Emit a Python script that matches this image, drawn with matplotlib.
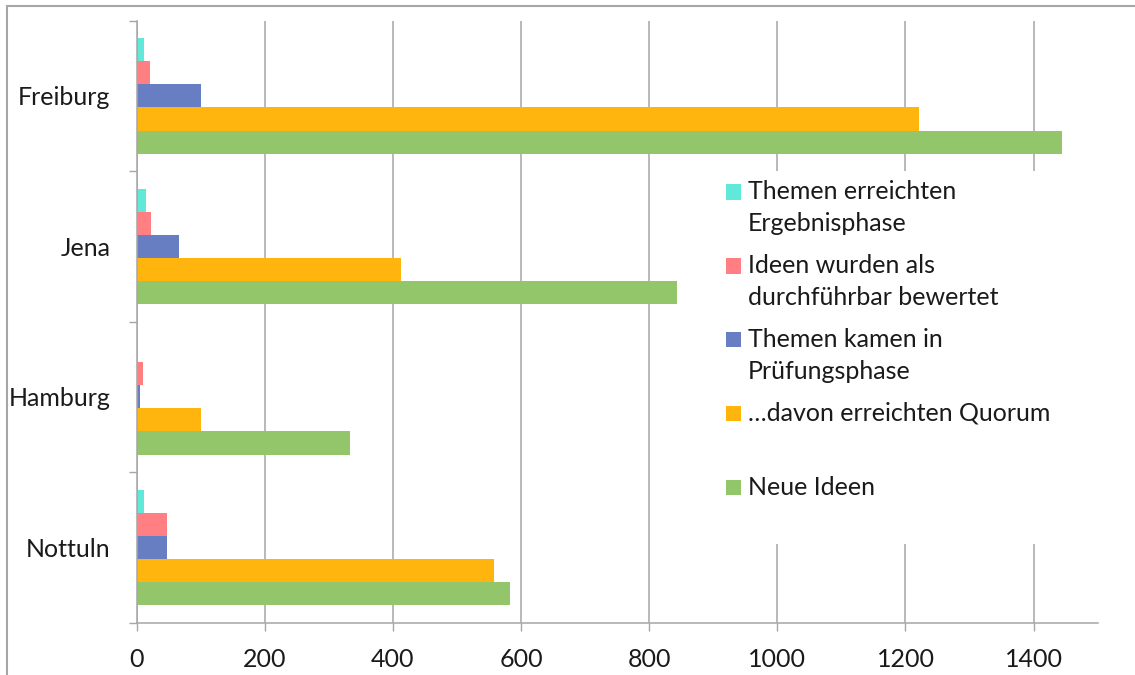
import numpy as np
import matplotlib.pyplot as plt
from matplotlib.patches import Rectangle

plt.rcParams['font.family'] = ['Lato', 'DejaVu Sans']

# Datos
staedte = ['Freiburg', 'Jena', 'Hamburg', 'Nottuln']
serien = ['Themen erreichten\nErgebnisphase',
          'Ideen wurden als\ndurchführbar bewertet',
          'Themen kamen in\nPrüfungsphase',
          '…davon erreichten Quorum',
          'Neue Ideen']
ergebnisphase = [12, 15, 1, 12]
durchfuehrbar = [21, 22, 10, 48]
pruefungsphase = [100, 66, 6, 48]
quorum = [1221, 412, 100, 557]
neue_ideen = [1445, 843, 333, 582]
x_ticks = [0, 200, 400, 600, 800, 1000, 1200, 1400]

farben = ['#62E8D8', '#FF7F82', '#677EC2', '#FFB50D', '#93C66A']
werte = [ergebnisphase, durchfuehrbar, pruefungsphase, quorum, neue_ideen]

fig = plt.figure(figsize=(11.35, 6.75), dpi=100)
ax = fig.add_axes([0.1204, 0.0775, 0.8467, 0.8918])

grau = '#a6a6a6'
h = 0.153
y = np.arange(len(staedte))
for j, (vals, col) in enumerate(zip(werte, farben)):
    ax.barh(y + (j - 2) * h, vals, height=h, color=col, zorder=2)

ax.set_xlim(0, 1500)
ax.set_ylim(3.5, -0.5)
ax.set_xticks(x_ticks)
ax.set_xticklabels([str(t) for t in x_ticks], fontsize=18, color='#1a1a1a')
ax.set_yticks(y)
ax.set_yticklabels(staedte, fontsize=18, color='#1a1a1a')
ax.set_yticks(np.arange(-0.5, 4.0, 1.0), minor=True)

ax.tick_params(axis='x', direction='out', length=5.5, width=1, color=grau, pad=13)
ax.tick_params(axis='y', which='major', length=0, pad=19)
ax.tick_params(axis='y', which='minor', direction='out', length=6, width=1, color=grau)

ax.grid(axis='x', color=grau, linewidth=1.1, zorder=0)
ax.set_axisbelow(True)
for s in ['top', 'right']:
    ax.spines[s].set_visible(False)
for s in ['left', 'bottom']:
    ax.spines[s].set_color(grau)
    ax.spines[s].set_linewidth(1.1)

# Legende (weisser Kasten ueber den Gitterlinien)
ax.add_patch(Rectangle((0.58, 0.13), 0.385, 0.62, transform=ax.transAxes,
                       facecolor='white', edgecolor='none', zorder=3))
y0 = 0.7155
dy = 74 / 602
for j, (lab, col) in enumerate(zip(serien, farben)):
    yy = y0 - j * dy
    ax.add_patch(Rectangle((0.6133, yy - 0.0125), 0.0156, 0.025, transform=ax.transAxes,
                           facecolor=col, edgecolor='none', zorder=4))
    ax.text(0.636, yy + 0.02, lab, transform=ax.transAxes, fontsize=18,
            va='top', ha='left', linespacing=1.5, color='#1a1a1a', zorder=5)

# Rahmen
fig.add_artist(Rectangle((7 / 1135, -0.1), 1.2, 1 - 6 / 675 + 0.1, transform=fig.transFigure,
                         facecolor='none', edgecolor='#a6a6a6', linewidth=1.5))

fig.savefig('out.png', dpi=100)
